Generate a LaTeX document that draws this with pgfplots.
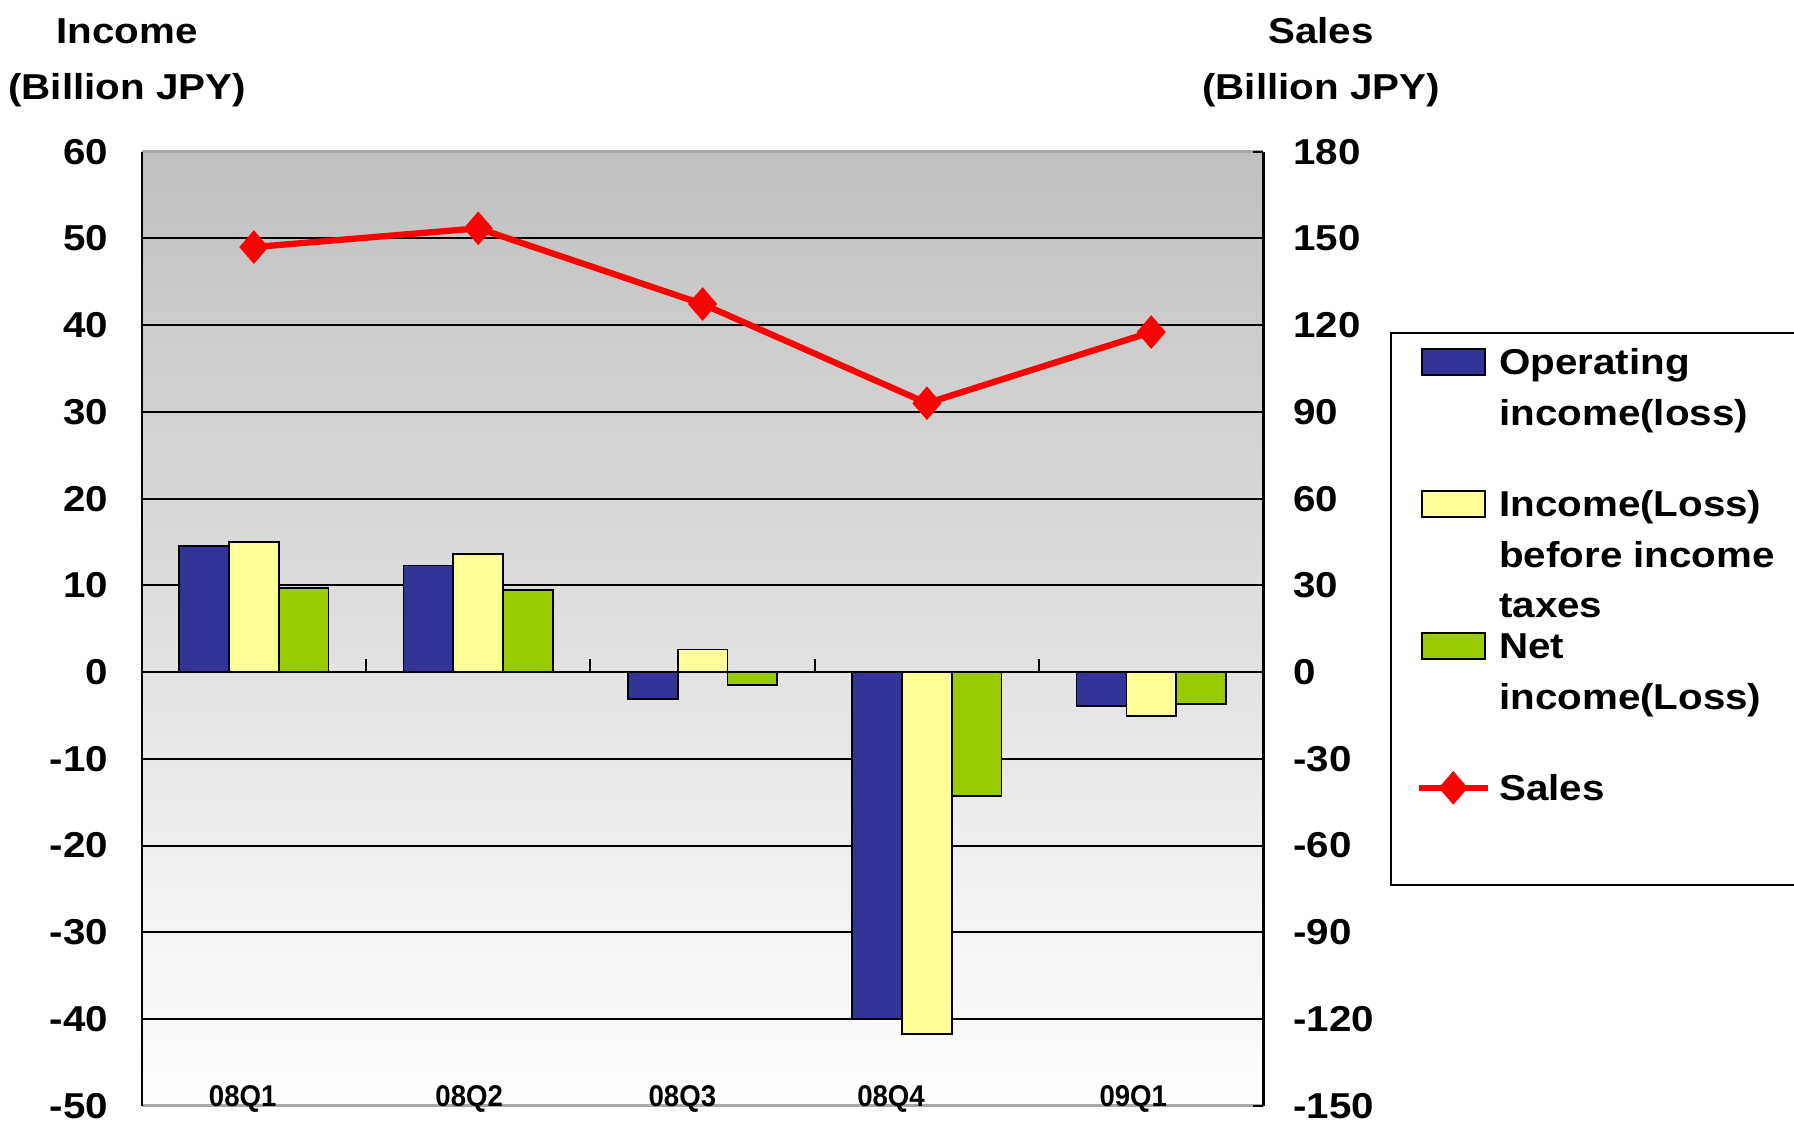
\documentclass[border=0pt]{standalone}
\usepackage{fontspec}
\setmainfont{Liberation Sans}[FakeStretch=1.12]
\newfontfamily\catfamily{Liberation Sans}[FakeStretch=0.92]
\usepackage{pgfplots}
\pgfplotsset{compat=1.18}
\definecolor{opblue}{HTML}{333399}
\definecolor{preyellow}{HTML}{FFFF99}
\definecolor{netgreen}{HTML}{99CC00}
\definecolor{bgtop}{HTML}{C0C0C0}
\definecolor{framegray}{HTML}{A8A8A8}
\newcommand\bigf{\fontsize{12.6}{17.6}\selectfont\bfseries}
\newcommand\catf{\catfamily\fontsize{10.5}{12}\selectfont\bfseries}
\newcommand\legtext[1]{\smash{\begin{tabular}[t]{@{}l@{}}#1\end{tabular}}}
\pgfplotsset{
  barleg/.style={legend image code/.code={\draw[##1] (0pt,0pt) rectangle (22pt,9pt);}},
  salesleg/.style={legend image code/.code={\draw[mark repeat=2,mark phase=2,##1] plot coordinates {(-1pt,4.5pt) (11pt,4.5pt) (23pt,4.5pt)};}},
}
\begin{document}
\begin{tikzpicture}
\useasboundingbox (0,0) rectangle (627.9pt,392.35pt);
\begin{axis}[
  at={(49.6pt,5.35pt)}, anchor=south west, scale only axis,
  width=392.6pt, height=333.9pt,
  xmin=-0.5, xmax=4.5, ymin=-50, ymax=60,
  ytick={-50,-40,...,60}, ytick pos=left,
  xtick={-0.05,0.96,1.91,2.84,3.92},
  xticklabels={08Q1,08Q2,08Q3,08Q4,09Q1},
  x tick style={draw=none},
  xticklabel style={font=\catf, anchor=base, yshift=-0.2pt},
  yticklabel style={font=\bigf, xshift=-8.3pt},
  /pgf/number format/assume math mode=true,
  tick align=inside, major tick length=3.5pt,
  y tick style={black, line width=0.7pt},
  extra y ticks={-40,-30,...,50}, extra y tick labels={},
  extra y tick style={grid=major, major grid style={black, line width=0.7pt}, major tick length=0pt},
  separate axis lines,
  x axis line style={draw=framegray, line width=1pt},
  y axis line style={draw=black, line width=0.8pt},
  axis background/.style={top color=bgtop, bottom color=white},
  clip=false,
  legend style={at={(1.1131,0.8110)}, anchor=north west, draw=black, line width=0.7pt,
    inner xsep=8.6pt, inner ysep=0pt, row sep=0pt, column sep=3pt,
    font=\bigf, cells={anchor=base west},
    nodes={inner sep=0pt, text height=14.6pt, text depth=35.1pt}},
]
\addplot[ybar, bar width=0.222, bar shift=-0.222, fill=opblue, draw=black, line width=0.6pt, barleg]
  coordinates {(0,14.5) (1,12.3) (2,-3.1) (3,-40) (4,-3.9)};
\addlegendentry{\legtext{Operating\\income(loss)}}
\addplot[ybar, bar width=0.222, bar shift=0, fill=preyellow, draw=black, line width=0.6pt, barleg]
  coordinates {(0,15.0) (1,13.6) (2,2.6) (3,-41.7) (4,-5.05)};
\addlegendentry{\legtext{Income(Loss)\\before income\\taxes}}
\addplot[ybar, bar width=0.222, bar shift=0.222, fill=netgreen, draw=black, line width=0.6pt, barleg]
  coordinates {(0,9.7) (1,9.45) (2,-1.5) (3,-14.3) (4,-3.65)};
\addlegendentry{\legtext{Net\\income(Loss)}}
\addlegendimage{red, line width=2.2pt, mark=diamond*, mark size=5.6pt,
  mark options={xscale=1.15, line width=0.4pt, fill=red}, salesleg}
\addlegendentry[text depth=29.5pt]{Sales}
\draw[black, line width=0.7pt] (axis cs:0.5,0) -- ([yshift=4.6pt]axis cs:0.5,0);
\draw[black, line width=0.7pt] (axis cs:1.5,0) -- ([yshift=4.6pt]axis cs:1.5,0);
\draw[black, line width=0.7pt] (axis cs:2.5,0) -- ([yshift=4.6pt]axis cs:2.5,0);
\draw[black, line width=0.7pt] (axis cs:3.5,0) -- ([yshift=4.6pt]axis cs:3.5,0);
\end{axis}
\begin{axis}[
  at={(49.6pt,5.35pt)}, anchor=south west, scale only axis,
  width=392.6pt, height=333.9pt,
  xmin=-0.5, xmax=4.5, ymin=-150, ymax=180,
  ytick={-150,-120,...,180},
  axis y line*=right, axis x line=none,
  y axis line style={draw=black, line width=0.8pt},
  yticklabel style={font=\bigf, xshift=6.9pt},
  /pgf/number format/assume math mode=true,
  tick align=inside, major tick length=3.5pt,
  y tick style={black, line width=0.7pt},
]
\addplot[red, line width=2.2pt, mark=diamond*, mark size=5.6pt,
  mark options={xscale=1.15, line width=0.4pt, fill=red}]
  coordinates {(0,147) (1,153.5) (2,127.3) (3,93) (4,117.6)};
\end{axis}
\node[anchor=base, font=\bigf] at (44.45pt,377.1pt) {Income};
\node[anchor=base, font=\bigf] at (44.45pt,357.5pt) {(Billion JPY)};
\node[anchor=base, font=\bigf] at (462.35pt,377.1pt) {Sales};
\node[anchor=base, font=\bigf] at (462.35pt,357.5pt) {(Billion JPY)};
\end{tikzpicture}
\end{document}
